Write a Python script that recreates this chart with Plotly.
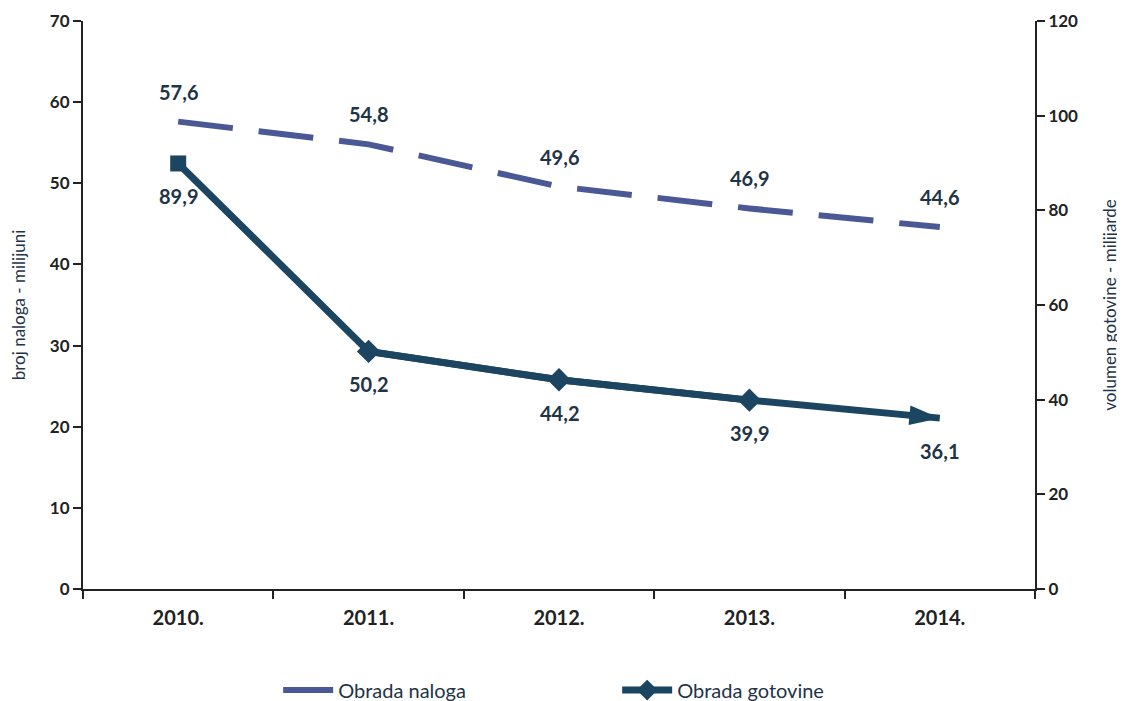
import plotly.graph_objects as go

years = ["2010.", "2011.", "2012.", "2013.", "2014."]
naloga = [57.6, 54.8, 49.6, 46.9, 44.6]
gotovina = [89.9, 50.2, 44.2, 39.9, 36.1]
left_ticks = [0, 10, 20, 30, 40, 50, 60, 70]
right_ticks = [0, 20, 40, 60, 80, 100, 120]

c_nal = "#4a5896"
c_got = "#1b4560"
txt = "#1e3447"
FONT = "Lato"

def fmt(v):
    return f"{v:.1f}".replace(".", ",")

fig = go.Figure()
fig.add_trace(go.Scatter(
    x=years, y=naloga, name="Obrada naloga", mode="lines",
    line=dict(color=c_nal, width=6, dash="55px,26px"),
    yaxis="y",
))
# full line for gotovina
fig.add_trace(go.Scatter(
    x=years, y=gotovina, mode="lines", showlegend=False,
    line=dict(color=c_got, width=7), yaxis="y2", hoverinfo="skip",
))
# square at first point
fig.add_trace(go.Scatter(
    x=years[:1], y=gotovina[:1], mode="markers", showlegend=False,
    marker=dict(symbol="square", size=16, color=c_got, line=dict(width=0)),
    yaxis="y2",
))
# diamonds at middle points (legend entry)
fig.add_trace(go.Scatter(
    x=years[1:4], y=gotovina[1:4], name="Obrada gotovine", mode="lines+markers",
    line=dict(color=c_got, width=7),
    marker=dict(symbol="diamond", size=18, color=c_got, line=dict(width=0)),
    yaxis="y2",
))
# arrow head at the end
fig.add_trace(go.Scatter(
    x=years[-2:], y=gotovina[-2:], mode="markers", showlegend=False,
    marker=dict(symbol="arrow", size=32, color=c_got, angleref="previous",
                line=dict(width=0)),
    yaxis="y2",
))

ann = []
for i, v in enumerate(naloga):
    ann.append(dict(x=i, y=v, xref="x", yref="y", text=fmt(v), showarrow=False,
                    yshift=30, font=dict(size=20, color=txt, family=FONT, weight="bold")))
for i, v in enumerate(gotovina):
    ann.append(dict(x=i, y=v, xref="x", yref="y2", text=fmt(v), showarrow=False,
                    yshift=-33, font=dict(size=20, color=txt, family=FONT, weight="bold")))

tickfont = dict(size=17, color="#222222", family=FONT, weight="bold")
fig.update_layout(
    width=1117, height=693,
    margin=dict(l=75, r=90, t=13, b=112, autoexpand=False),
    paper_bgcolor="white", plot_bgcolor="white",
    font=dict(family=FONT, color="#222222"),
    showlegend=True,
    legend=dict(orientation="h", x=0.205, xanchor="left", y=-0.178, yanchor="middle",
                entrywidth=274, itemwidth=50,
                font=dict(size=20, color=txt, family=FONT)),
    xaxis=dict(type="category", showline=True, linecolor="#222222", linewidth=2,
               ticks="outside", ticklen=8, tickwidth=2, tickcolor="#222222",
               tickson="boundaries", showgrid=False, zeroline=False, automargin=False,
               ticklabelstandoff=10,
               tickfont=dict(size=20, color="#222222", family=FONT, weight="bold"),
               range=[-0.5, 4.5]),
    yaxis=dict(range=[0, 70], tickvals=left_ticks, showline=True, linecolor="#222222",
               linewidth=2, ticks="outside", ticklen=8, tickwidth=2, tickcolor="#222222",
               showgrid=False, zeroline=False, automargin=False, tickfont=tickfont,
               title=dict(text="broj naloga - milijuni", standoff=28,
                          font=dict(size=17, color=txt, family=FONT))),
    yaxis2=dict(range=[0, 120], tickvals=right_ticks, overlaying="y", side="right",
                showline=True, linecolor="#222222", linewidth=2, ticks="outside",
                ticklen=8, tickwidth=2, tickcolor="#222222", showgrid=False, zeroline=False,
                automargin=False, tickfont=tickfont,
                title=dict(text="volumen gotovine - milijarde", standoff=27,
                           font=dict(size=17, color=txt, family=FONT))),
    annotations=ann,
)

fig.write_html("out.html")
